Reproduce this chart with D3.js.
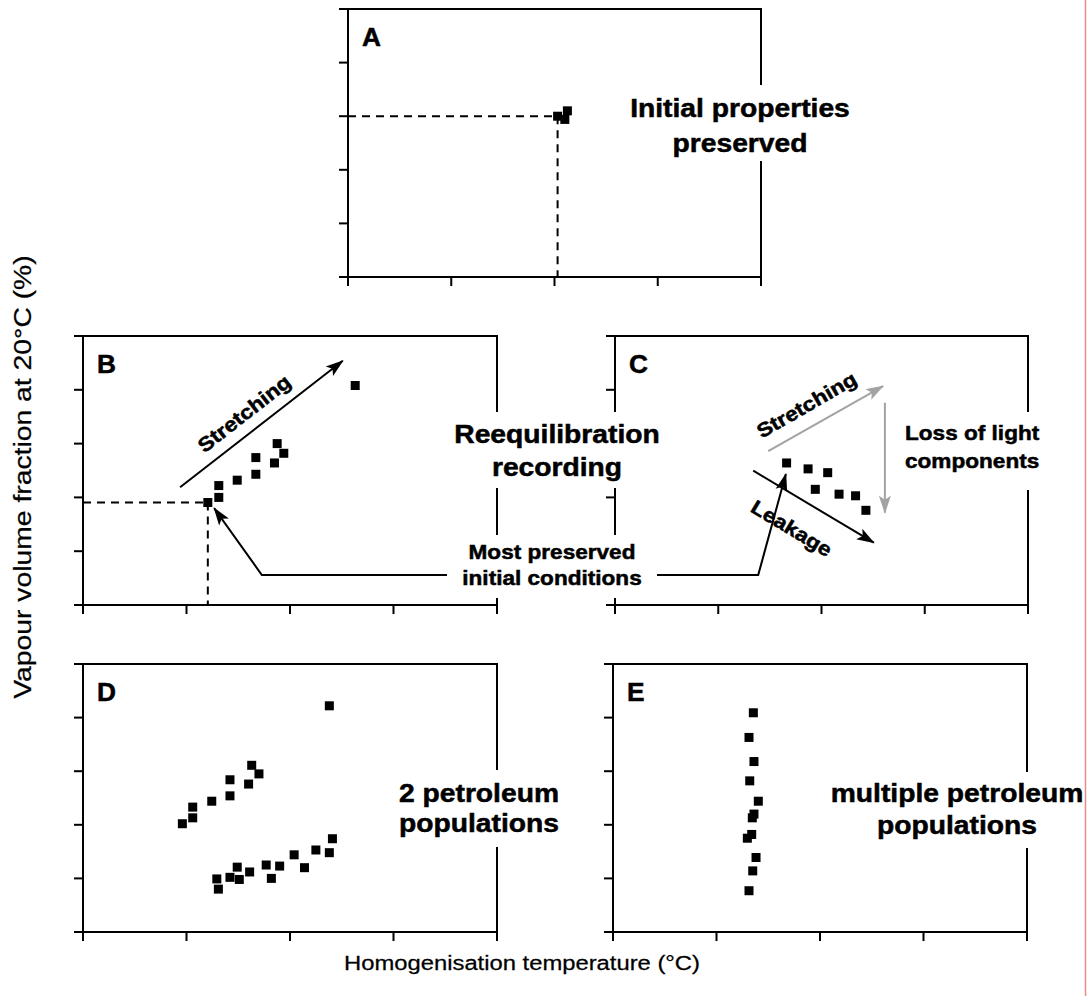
<!DOCTYPE html>
<html>
<head>
<meta charset="utf-8">
<script src="https://cdn.jsdelivr.net/npm/d3@7"></script>
<style>
  body { margin: 0; background: #fff; }
  svg { display: block; }
</style>
</head>
<body>
<div id="chart"></div>
<script>
// axes carry no numbers in the original, so values are in tick units
// x: 0..4 (ticks every unit), y: 0..5 (ticks every unit)
var xTicks = [0, 1, 2, 3, 4];
var yTicks = [0, 1, 2, 3, 4, 5];

var ptsA = [[2.125, 3.10], [2.03, 3.00], [2.10, 2.94]];

var ptsB = [[1.206, 1.905], [1.312, 2.00], [1.312, 2.22], [1.49, 2.32], [1.67, 2.43],
  [1.67, 2.74], [1.85, 2.64], [1.876, 3.00], [1.94, 2.82], [2.63, 4.08]];

var ptsC = [[1.662, 2.64], [1.87, 2.53], [2.06, 2.46], [1.94, 2.15], [2.17, 2.06],
  [2.33, 2.03], [2.43, 1.76]];

var ptsDupper = [[0.96, 2.02], [1.06, 2.13], [1.06, 2.33], [1.244, 2.44], [1.42, 2.54],
  [1.42, 2.84], [1.60, 2.76], [1.63, 3.11], [1.70, 2.95], [2.38, 4.22]];
var ptsDlower = [[1.293, 0.99], [1.308, 0.80], [1.42, 1.02], [1.51, 0.98], [1.49, 1.21],
  [1.61, 1.12], [1.77, 1.25], [1.82, 1.00], [1.90, 1.23], [2.04, 1.44], [2.14, 1.20],
  [2.25, 1.53], [2.38, 1.48], [2.41, 1.74]];

var ptsE = [[1.356, 4.09], [1.314, 3.63], [1.362, 3.18], [1.321, 2.82], [1.404, 2.44],
  [1.362, 2.20], [1.346, 2.13], [1.340, 1.82], [1.298, 1.75], [1.382, 1.39],
  [1.350, 1.14], [1.314, 0.77]];

// annotation arrows, same units as the panel they sit in
var arrowStretchB = [[0.938, 2.19], [2.51, 4.54]];
var arrowPointB = [[3.517, 0.558], [1.728, 0.558], [1.267, 1.80]];
var arrowPointC = [[0.404, 0.558], [1.387, 0.558], [1.655, 2.435]];
var arrowStretchC = [[1.484, 2.862], [2.597, 4.07]];
var arrowLossC = [[2.614, 3.76], [2.614, 1.716]];
var arrowLeakC = [[1.339, 2.496], [2.507, 1.158]];

var W = 1088, H = 996;
var FONT = "'Liberation Sans', Arial, Helvetica, sans-serif";
var GREY = "#a3a3a3";

var svg = d3.select("#chart").append("svg")
  .attr("width", W)
  .attr("height", H);

var defs = svg.append("defs");
function arrowMarker(id, color) {
  defs.append("marker")
    .attr("id", id)
    .attr("viewBox", "-18 -6.5 19 13")
    .attr("refX", 0)
    .attr("refY", 0)
    .attr("markerUnits", "userSpaceOnUse")
    .attr("markerWidth", 19)
    .attr("markerHeight", 13)
    .attr("orient", "auto")
    .append("path")
    .attr("d", "M1,0 L-17,-6 L-13,0 L-17,6 Z")
    .attr("fill", color);
}
arrowMarker("headK", "#000");
arrowMarker("headG", GREY);

// text helper: glyphs in the original are a bit wider and heavier than Arial
function txt(g, s, x, y, o) {
  o = o || {};
  var bold = (o.weight || "bold") === "bold";
  return g.append("text")
    .attr("transform", "translate(" + x + "," + y + ")" +
      (o.rot ? " rotate(" + o.rot + ")" : "") +
      " scale(" + (o.sx || 1.13) + ",1)")
    .attr("text-anchor", o.anchor || "middle")
    .attr("dy", o.dy || 0)
    .attr("font-family", FONT)
    .attr("font-weight", o.weight || "bold")
    .attr("font-size", o.size || 25)
    .attr("fill", o.fill || "#000")
    .attr("stroke", o.fill || "#000")
    .attr("stroke-width", bold ? 0.5 : 0.25)
    .text(s);
}

function panel(p, letter) {
  var x = d3.scaleLinear().domain([0, 4]).range([p.x0, p.x1]);
  var y = d3.scaleLinear().domain([0, 5]).range([p.y1, p.y0]);
  var g = svg.append("g");

  g.append("g")
    .attr("transform", "translate(0," + p.y1 + ")")
    .call(d3.axisBottom(x).tickValues(xTicks).tickSize(9).tickSizeOuter(0).tickFormat("").offset(0));
  g.append("g")
    .attr("transform", "translate(" + p.x0 + ",0)")
    .call(d3.axisLeft(y).tickValues(yTicks).tickSize(9).tickSizeOuter(0).tickFormat("").offset(0));
  g.selectAll(".domain")
    .attr("stroke", "#000")
    .attr("stroke-width", 2)
    .attr("stroke-linecap", "square");
  g.selectAll(".tick line")
    .attr("stroke", "#000")
    .attr("stroke-width", 2);

  // top and right frame
  g.append("path")
    .attr("d", "M" + p.x0 + "," + p.y0 + "H" + p.x1 + "V" + p.y1)
    .attr("fill", "none")
    .attr("stroke", "#000")
    .attr("stroke-width", 2);

  txt(g, letter, p.x0 + 14, p.y0 + 37, { anchor: "start", size: 25, sx: 1.05 });

  return { g: g, x: x, y: y };
}

function squares(P, data) {
  P.g.append("g")
    .selectAll("rect")
    .data(data)
    .enter()
    .append("rect")
    .attr("x", function(d) { return P.x(d[0]) - 4.5; })
    .attr("y", function(d) { return P.y(d[1]) - 4.5; })
    .attr("width", 9)
    .attr("height", 9)
    .attr("fill", "#000");
}

function dashedTo(P, d) {
  var px = P.x(d[0]), py = P.y(d[1]);
  P.g.append("path")
    .attr("d", "M" + P.x(0) + "," + py + "H" + px + "M" + px + "," + py + "V" + P.y(0))
    .attr("fill", "none")
    .attr("stroke", "#000")
    .attr("stroke-width", 2)
    .attr("stroke-dasharray", "8,6");
}

function arrow(P, pts, color, head) {
  var line = d3.line()
    .x(function(d) { return P.x(d[0]); })
    .y(function(d) { return P.y(d[1]); });
  P.g.append("path")
    .attr("d", line(pts))
    .attr("fill", "none")
    .attr("stroke", color)
    .attr("stroke-width", 2)
    .attr("marker-end", "url(#" + head + ")");
}

var A = panel({ x0: 348, x1: 761, y0: 9, y1: 277 }, "A");
var B = panel({ x0: 83, x1: 497, y0: 336, y1: 605 }, "B");
var C = panel({ x0: 615, x1: 1028, y0: 336, y1: 605 }, "C");
var D = panel({ x0: 83, x1: 497, y0: 664, y1: 932 }, "D");
var E = panel({ x0: 613, x1: 1027, y0: 664, y1: 932 }, "E");

// white boxes behind the labels break the frames like in the original
var boxes = svg.append("g");
[[618, 85, 244, 76], [447, 412, 220, 76], [447, 535, 210, 63],
 [898, 412, 152, 78], [388, 770, 182, 77], [826, 772, 262, 76]].forEach(function(b) {
  boxes.append("rect")
    .attr("x", b[0]).attr("y", b[1])
    .attr("width", b[2]).attr("height", b[3])
    .attr("fill", "#fff");
});

var labels = svg.append("g");
txt(labels, "Initial properties", 740, 117);
txt(labels, "preserved", 740, 152);
txt(labels, "Reequilibration", 557, 443);
txt(labels, "recording", 557, 476);
txt(labels, "Most preserved", 552, 559, { size: 20 });
txt(labels, "initial conditions", 552, 585, { size: 20 });
txt(labels, "Loss of light", 905, 440, { size: 20, anchor: "start" });
txt(labels, "components", 905, 468, { size: 20, anchor: "start" });
txt(labels, "2 petroleum", 479, 802);
txt(labels, "populations", 479, 832);
txt(labels, "multiple petroleum", 957, 802);
txt(labels, "populations", 957, 834);

// panel A
dashedTo(A, ptsA[1]);
squares(A, ptsA);

// panel B
dashedTo(B, ptsB[0]);
squares(B, ptsB);
arrow(B, arrowStretchB, "#000", "headK");
arrow(B, arrowPointB, "#000", "headK");
txt(B.g, "Stretching", B.x(1.557), B.y(3.56), { size: 20, rot: -38, dy: "0.35em" });

// panel C
squares(C, ptsC);
arrow(C, arrowStretchC, GREY, "headG");
arrow(C, arrowLossC, GREY, "headG");
arrow(C, arrowLeakC, "#000", "headK");
arrow(C, arrowPointC, "#000", "headK");
txt(C.g, "Stretching", C.x(1.856), C.y(3.72), { size: 20, rot: -30, dy: "0.35em" });
txt(C.g, "Leakage", C.x(1.711), C.y(1.426), { size: 20, rot: 31, dy: "0.35em" });

// panels D and E
squares(D, ptsDupper);
squares(D, ptsDlower);
squares(E, ptsE);

// axis titles
txt(svg, "Vapour volume fraction at 20°C (%)", 31, 477, { weight: "normal", size: 24, sx: 1.18, rot: -90 });
txt(svg, "Homogenisation temperature (°C)", 522, 970, { weight: "normal", size: 20, sx: 1.19 });

// thin red edge line at the right of the original
svg.append("line")
  .attr("x1", 1085.5).attr("x2", 1085.5)
  .attr("y1", 0).attr("y2", H)
  .attr("stroke", "#f08a8a")
  .attr("stroke-width", 1.5);
</script>
</body>
</html>
